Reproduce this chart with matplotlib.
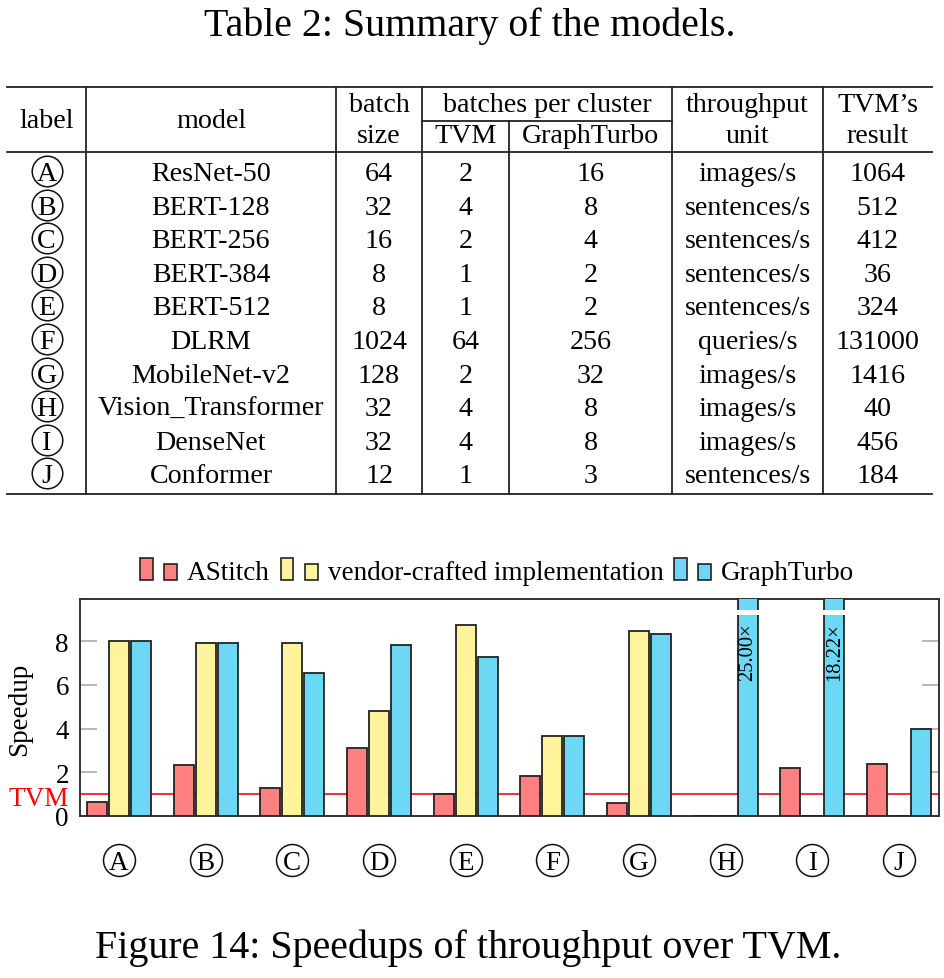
import matplotlib
matplotlib.use('Agg')
import matplotlib.pyplot as plt
import matplotlib.transforms as mtransforms
from matplotlib.patches import Rectangle
from matplotlib.container import BarContainer
from matplotlib.legend_handler import HandlerBase

plt.rcParams['font.family'] = ['Liberation Serif', 'DejaVu Serif']

# ---- table data ----
labels = ['A', 'B', 'C', 'D', 'E', 'F', 'G', 'H', 'I', 'J']
models = ['ResNet-50', 'BERT-128', 'BERT-256', 'BERT-384', 'BERT-512', 'DLRM',
          'MobileNet-v2', 'Vision_Transformer', 'DenseNet', 'Conformer']
batch_size = ['64', '32', '16', '8', '8', '1024', '128', '32', '32', '12']
tvm_batches = ['2', '4', '2', '1', '1', '64', '2', '4', '4', '1']
gt_batches = ['16', '8', '4', '2', '2', '256', '32', '8', '8', '3']
units = ['images/s', 'sentences/s', 'sentences/s', 'sentences/s', 'sentences/s',
         'queries/s', 'images/s', 'images/s', 'images/s', 'sentences/s']
tvm_result = ['1064', '512', '412', '36', '324', '131000', '1416', '40', '456', '184']

# ---- chart data (speedup over TVM) ----
series_names = ['AStitch', 'vendor-crafted implementation', 'GraphTurbo']
astitch = [0.64, 2.32, 1.30, 3.11, 1.02, 1.82, 0.59, 0.0, 2.18, 2.36]
vendor = [8.02, 7.93, 7.90, 4.79, 8.76, 3.66, 8.48, 0.0, 0.0, 0.0]
graphturbo = [7.99, 7.93, 6.53, 7.81, 7.28, 3.66, 8.31, 25.00, 18.22, 3.97]
colors = ['#ff8080', '#fff39b', '#6cd8f5']

FS = 19.5      # chart text
TFS = 20.2     # table text
EDGE = '#222222'

fig = plt.figure(figsize=(9.45, 9.79), dpi=100)

# overlay in pixel coordinates for captions and the table
ov = fig.add_axes([0, 0, 1, 1])
ov.set_xlim(0, 945)
ov.set_ylim(979, 0)
ov.axis('off')

ov.text(470, 36, 'Table 2: Summary of the models.', ha='center', va='baseline', fontsize=28.7)
ov.text(468, 958, 'Figure 14: Speedups of throughput over TVM.', ha='center', va='baseline', fontsize=28.8)

# table rules
lw = 1.3
x_left, x_right = 7, 932
for y in (88, 153, 495):
    ov.plot([x_left, x_right], [y, y], color=EDGE, lw=lw)
ov.plot([422, 672], [122, 122], color=EDGE, lw=lw)
for x in (86, 336, 422, 672, 823):
    ov.plot([x, x], [88, 495], color=EDGE, lw=lw)
ov.plot([509, 509], [122, 495], color=EDGE, lw=lw)

# header
col_x = [46.5, 211, 379, 465.5, 590.5, 747.5, 877.5]
ov.text(col_x[0], 128, 'label', ha='center', va='baseline', fontsize=TFS)
ov.text(col_x[1], 128, 'model', ha='center', va='baseline', fontsize=TFS)
ov.text(col_x[2], 112, 'batch', ha='center', va='baseline', fontsize=TFS)
ov.text(col_x[2], 143, 'size', ha='center', va='baseline', fontsize=TFS)
ov.text(547, 112, 'batches per cluster', ha='center', va='baseline', fontsize=TFS)
ov.text(col_x[3], 143, 'TVM', ha='center', va='baseline', fontsize=TFS)
ov.text(col_x[4], 143, 'GraphTurbo', ha='center', va='baseline', fontsize=TFS)
ov.text(col_x[5], 112, 'throughput', ha='center', va='baseline', fontsize=TFS)
ov.text(col_x[5], 143, 'unit', ha='center', va='baseline', fontsize=TFS)
ov.text(col_x[6], 112, 'TVM\u2019s', ha='center', va='baseline', fontsize=TFS)
ov.text(col_x[6], 143, 'result', ha='center', va='baseline', fontsize=TFS)

# body rows
row_step = 33.6
for i in range(len(models)):
    base = 181 + i * row_step
    cols = [models[i], batch_size[i], tvm_batches[i], gt_batches[i], units[i], tvm_result[i]]
    for x, t in zip(col_x[1:], cols):
        ov.text(x, base, t, ha='center', va='baseline', fontsize=TFS)
    ov.text(col_x[0], base, labels[i], ha='center', va='baseline', fontsize=TFS)
    ov.plot(col_x[0], base - 9, 'o', ms=22, mfc='none', mec='#111111', mew=1.1)

# ---- bar chart ----
ax = fig.add_axes([80 / 945, 1 - 817 / 979, 859 / 945, 217 / 979])
x = list(range(len(labels)))
width = 0.23
offsets = [-0.254, 0.0, 0.254]
ytop = 9.93
containers = []
for vals, off, c, name in zip([astitch, vendor, graphturbo], offsets, colors, series_names):
    b = ax.bar([i + off for i in x], vals, width=width, color=c, edgecolor=EDGE,
               linewidth=1.3, label=name, zorder=3)
    containers.append(b)
    for i, v in enumerate(vals):
        if v > ytop:
            ax.add_patch(Rectangle((i + off - width / 2 - 0.03, 9.22), width + 0.06, 0.19,
                                   facecolor='white', edgecolor='none', zorder=4, clip_on=False))
            ax.text(i + off, 8.85, '%.2f\u00d7' % v, rotation=90, ha='center', va='top',
                    fontsize=14.8, zorder=5)

ax.axhline(1, color='#ee2222', lw=1.3, zorder=1)
ax.set_xlim(-0.45, 9.46)
ax.set_ylim(0, ytop)
ax.set_yticks([0, 2, 4, 6, 8])
ax.set_xticks([])
ax.tick_params(axis='y', direction='in', length=12, width=1.2, color='#aaaaaa',
               right=True, labelsize=FS, pad=8)
for s in ax.spines.values():
    s.set_color('#333333')
    s.set_linewidth(1.4)

ax.text(-0.013, 0.5, 'TVM', transform=mtransforms.blended_transform_factory(ax.transAxes, ax.transData),
        ha='right', va='baseline', color='red', fontsize=FS)
fig.text(20 / 945, 1 - 709 / 979, 'Speedup', rotation=90, ha='center', va='center', fontsize=FS)

# circled group labels under the axis
blend = mtransforms.blended_transform_factory(ax.transData, ax.transAxes)
for i, lab in zip(x, labels):
    ax.text(i, -0.244, lab, transform=blend, ha='center', va='baseline', fontsize=FS, clip_on=False)
ax.plot(x, [-0.2028] * len(x), 'o', transform=blend, ms=23, mfc='none', mec='#111111',
        mew=1.1, clip_on=False)


class TwoBoxHandler(HandlerBase):
    def create_artists(self, legend, orig_handle, xdescent, ydescent, width, height,
                       fontsize, trans):
        fc = orig_handle.patches[0].get_facecolor()
        w = width * 0.35
        r1 = Rectangle((-xdescent, -ydescent), w, height * 1.16, facecolor=fc,
                       edgecolor=EDGE, lw=1.2, transform=trans)
        r2 = Rectangle((-xdescent + width - w, -ydescent), w, height * 0.84, facecolor=fc,
                       edgecolor=EDGE, lw=1.2, transform=trans)
        return [r1, r2]


fig.legend(containers, series_names, loc='center', bbox_to_anchor=(0.526, 1 - 574 / 979),
           ncol=3, frameon=False, fontsize=FS, handlelength=1.37, handletextpad=0.37,
           columnspacing=0.4, handler_map={BarContainer: TwoBoxHandler()})

fig.savefig('out.png', dpi=100)
